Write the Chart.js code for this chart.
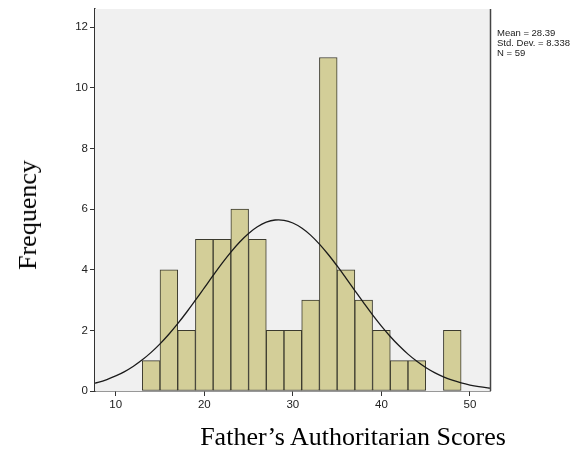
<!DOCTYPE html>
<html>
<head>
<meta charset="utf-8">
<script src="https://cdn.jsdelivr.net/npm/chart.js@4/dist/chart.umd.min.js"></script>
<style>
  html, body { margin: 0; padding: 0; background: #ffffff; }
  #wrap { position: relative; width: 586px; height: 451px; }
  #c { position: absolute; left: 0; top: 0; }
  .ytitle { position: absolute; left: 28px; top: 215px; transform: translate(-50%, -50%) rotate(-90deg);
    font-family: "Liberation Serif", "Times New Roman", serif; font-size: 26px; color: #000; white-space: nowrap; }
  .xtitle { position: absolute; left: 353px; top: 437px; transform: translate(-50%, -50%);
    font-family: "Liberation Serif", "Times New Roman", serif; font-size: 26px; color: #000; white-space: nowrap; }
  .stats { position: absolute; left: 497px; top: 28px; font-family: "Liberation Sans", Arial, sans-serif;
    font-size: 9.5px; line-height: 10px; color: #222; white-space: nowrap; }
</style>
</head>
<body>
<div id="wrap">
  <canvas id="c" width="586" height="451"></canvas>
  <div class="ytitle">Frequency</div>
  <div class="xtitle">Father’s Authoritarian Scores</div>
  <div class="stats">Mean = 28.39<br>Std. Dev. = 8.338<br>N = 59</div>
</div>
<script>
// Histogram bins (centers, width 2) and counts
const binCenters = [14, 16, 18, 20, 22, 24, 26, 28, 30, 32, 34, 36, 38, 40, 42, 44, 46, 48];
const binCounts  = [1, 4, 2, 5, 5, 6, 5, 2, 2, 3, 11, 4, 3, 2, 1, 1, 0, 2];

// Normal curve (x, expected frequency)
const curveX = [7, 8, 9, 10, 11, 12, 13, 14, 15, 16, 17, 18, 19, 20, 21, 22, 23, 24, 25, 26, 27, 28, 29, 30,
                31, 32, 33, 34, 35, 36, 37, 38, 39, 40, 41, 42, 43, 44, 45, 46, 47, 48, 49, 50, 51, 52, 53];
const curveY = [0.21, 0.284, 0.378, 0.496, 0.641, 0.818, 1.028, 1.274, 1.555, 1.872, 2.221, 2.598, 2.995, 3.403,
                3.812, 4.209, 4.581, 4.915, 5.198, 5.418, 5.568, 5.64, 5.631, 5.542, 5.376, 5.141, 4.845, 4.502,
                4.124, 3.723, 3.313, 2.906, 2.512, 2.142, 1.799, 1.49, 1.216, 0.979, 0.776, 0.607, 0.468, 0.355,
                0.266, 0.196, 0.143, 0.103, 0.072];

const xTicks = [10, 20, 30, 40, 50];
const yTicks = [0, 2, 4, 6, 8, 10, 12];

const histData = binCenters.map((x, i) => ({ x: x, y: binCounts[i] }));
const curveData = curveX.map((x, i) => ({ x: x, y: curveY[i] }));

const plotFrame = {
  id: 'plotFrame',
  beforeDatasetsDraw(chart) {
    const { ctx, chartArea: a } = chart;
    ctx.save();
    ctx.fillStyle = '#F0F0F0';
    ctx.fillRect(a.left, a.top, a.right - a.left, a.bottom - a.top);
    ctx.restore();
  },
  afterDraw(chart) {
    const { ctx, chartArea: a } = chart;
    ctx.save();
    ctx.strokeStyle = '#444';
    ctx.lineWidth = 1.5;
    ctx.beginPath();
    ctx.moveTo(a.right + 0.5, a.top);
    ctx.lineTo(a.right + 0.5, a.bottom);
    ctx.stroke();
    ctx.restore();
  }
};

new Chart(document.getElementById('c'), {
  data: {
    datasets: [
      {
        type: 'line',
        data: curveData,
        borderColor: '#1a1a1a',
        borderWidth: 1.3,
        pointRadius: 0,
        tension: 0.4,
        fill: false,
        order: 0
      },
      {
        type: 'bar',
        data: histData,
        backgroundColor: '#D3CE98',
        borderColor: '#3b3a2e',
        borderWidth: 1,
        borderSkipped: false,
        barPercentage: 1,
        categoryPercentage: 1,
        order: 1
      }
    ]
  },
  options: {
    responsive: false,
    animation: false,
    layout: { padding: { left: 0, top: 9, right: 96, bottom: 0 } },
    plugins: { legend: { display: false }, tooltip: { enabled: false } },
    scales: {
      x: {
        type: 'linear',
        offset: false,
        min: 7.66,
        max: 52.26,
        afterBuildTicks: (s) => { s.ticks = xTicks.map(v => ({ value: v })); },
        afterFit: (s) => { s.height = 60; },
        grid: { display: true, offset: false, drawOnChartArea: false, drawTicks: true, tickLength: 5, color: '#333', lineWidth: 1 },
        border: { display: true, color: '#333', width: 1.5 },
        ticks: { color: '#222', padding: 2, font: { family: 'Liberation Sans, Arial, sans-serif', size: 11.5 }, maxRotation: 0 }
      },
      y: {
        min: 0,
        max: 12.6,
        afterBuildTicks: (s) => { s.ticks = yTicks.map(v => ({ value: v })); },
        afterFit: (s) => { s.width = 95; },
        grid: { display: true, drawOnChartArea: false, drawTicks: true, tickLength: 5, color: '#333', lineWidth: 1 },
        border: { display: true, color: '#333', width: 1.5 },
        ticks: { color: '#222', padding: 2, font: { family: 'Liberation Sans, Arial, sans-serif', size: 11.5 } }
      }
    }
  },
  plugins: [plotFrame]
});
</script>
</body>
</html>
